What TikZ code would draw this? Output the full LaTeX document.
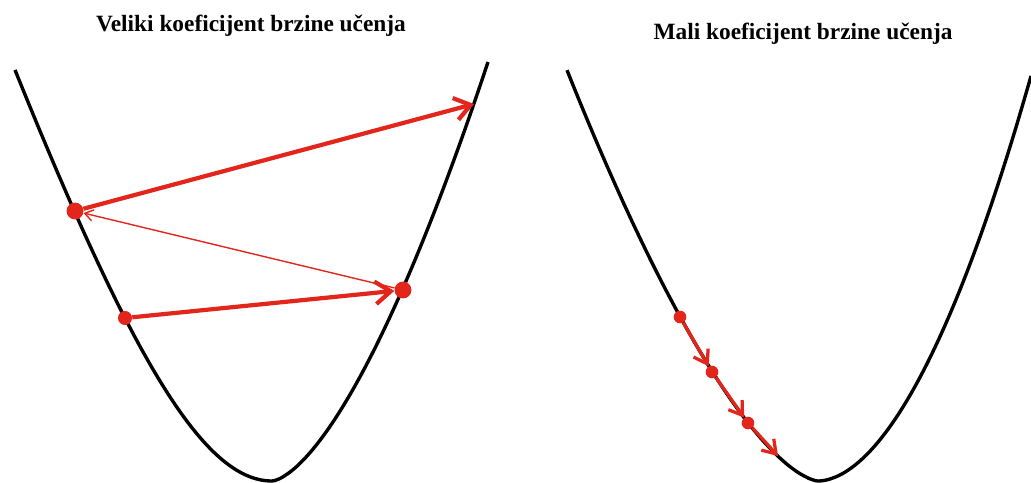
\documentclass[tikz,border=0pt]{standalone}
\usepackage{fontspec}
\setmainfont{Liberation Serif}
\usetikzlibrary{arrows.meta}
\definecolor{stepcol}{HTML}{E2261C}

\begin{document}
\begin{tikzpicture}[x=0.025cm,y=-0.025cm,
    every node/.style={font=\bfseries\fontsize{16.6}{20}\selectfont},
    dot/.style={circle,fill=stepcol,inner sep=0pt,minimum size=#1},
    curve/.style={line width=2.4pt,line join=round},
    bigstep/.style={draw=stepcol,line width=3pt,-{Straight Barb[length=11pt,width=16pt]}},
    thinstep/.style={draw=stepcol,line width=1pt,-{Straight Barb[length=6pt,width=8pt]}},
    smallstep/.style={draw=stepcol,line width=2.3pt,-{Straight Barb[length=9pt,width=12pt]}}]
  \useasboundingbox (0,0) rectangle (1031,482);
  % titles
  \node (lefttitle) at (251,26) {Veliki koeficijent brzine učenja};
  \node (righttitle) at (803,34) {Mali koeficijent brzine učenja};
  % loss curves (u = distance from the bottom / 100)
  \draw[curve] plot[domain=15:272,samples=80] (\x,{481-297.6*(sqrt(((272-\x)/100)^2+2.89)-1.7)})
    -- plot[domain=272:488,samples=80] (\x,{481-127*((\x-272)/100+0.0001)^1.55});
  \draw[curve] plot[domain=567:818,samples=80] (\x,{481-100.5*((818-\x)/100+0.0001)^1.53})
    -- plot[domain=818:1031,samples=80] (\x,{481-100*((\x-818)/100+0.0001)^1.85});
  % large learning rate
  \node[dot=10pt] (a1) at (125,318) {};
  \node[dot=12pt] (a2) at (403,290) {};
  \node[dot=12pt] (a3) at (75,211) {};
  \coordinate (a4) at (474,104);
  \draw[bigstep] (a1) -- (a2);
  \draw[thinstep] (a2) -- (a3);
  \draw[bigstep] (a3) -- (a4);
  % small learning rate
  \node[dot=9pt] (b1) at (680,317) {};
  \node[dot=9pt] (b2) at (712,372) {};
  \node[dot=9pt] (b3) at (748,423) {};
  \coordinate (b4) at (778,456);
  \draw[smallstep] (b1) -- (b2);
  \draw[smallstep] (b2) -- (b3);
  \draw[smallstep] (b3) -- (b4);
\end{tikzpicture}
\end{document}
